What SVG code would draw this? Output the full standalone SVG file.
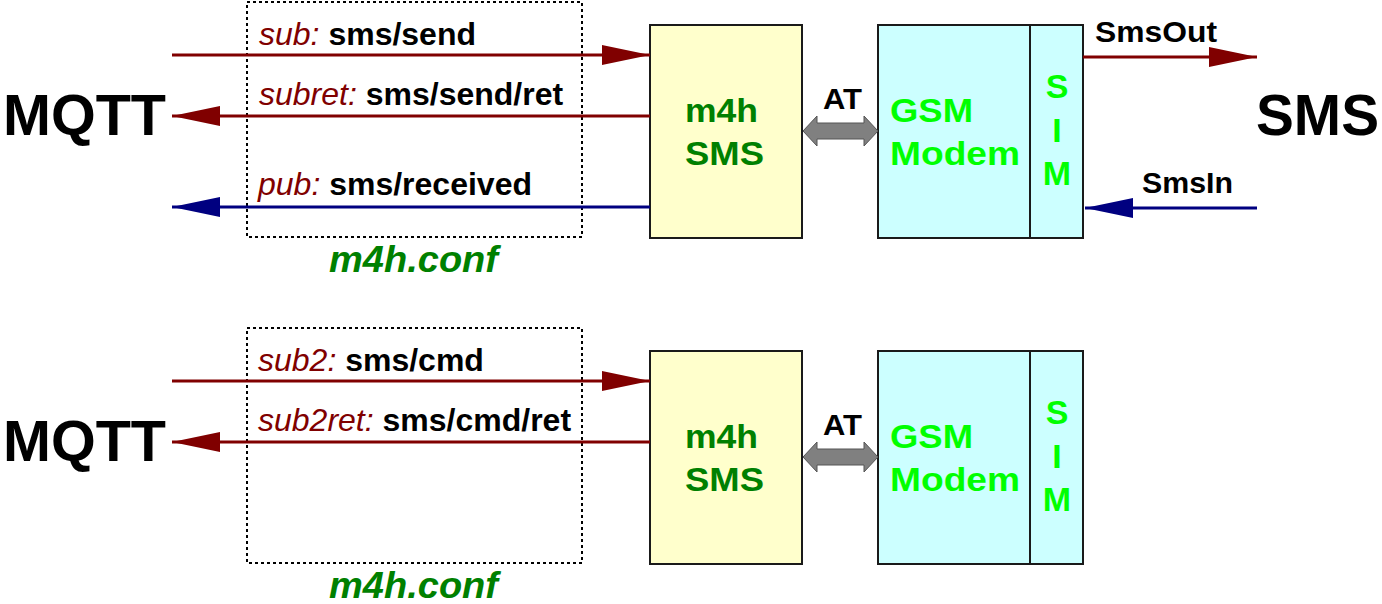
<svg xmlns="http://www.w3.org/2000/svg" width="1382" height="604" viewBox="0 0 1382 604">
<style>
text{font-family:"Liberation Sans",Arial,sans-serif;}
.big{font-size:58px;font-weight:bold;fill:#000;}
.lbl{font-size:32px;}
.key{font-style:italic;fill:#800000;font-weight:normal;}
.val{font-weight:bold;fill:#000;}
.conf{font-size:37px;font-weight:bold;font-style:italic;fill:#008000;}
.m4h{fill:#ffffcc;stroke:#1a1a1a;stroke-width:2;}
.gsm{fill:#ccffff;stroke:#1a1a1a;stroke-width:2;}
.m4ht{font-size:33px;font-weight:bold;fill:#008000;}
.gsmt{font-size:33px;font-weight:bold;fill:#00ff00;}
.simt{font-size:34px;font-weight:bold;fill:#00ff00;text-anchor:middle;}
.dot{fill:none;stroke:#000;stroke-width:2;stroke-dasharray:3 3;}
.red{stroke:#800000;stroke-width:3;fill:none;}
.blue{stroke:#000080;stroke-width:3;fill:none;}
.at{fill:#808080;stroke:#555;stroke-width:1;}
.att{font-size:29px;font-weight:bold;fill:#000;}
.sms{font-size:30px;font-weight:bold;fill:#000;}
</style>
<defs>
<marker id="hr" markerUnits="userSpaceOnUse" markerWidth="50" markerHeight="22" refX="48" refY="10" orient="auto"><path d="M0,0 L48,10 L0,20 z" fill="#800000"/></marker>
<marker id="hb" markerUnits="userSpaceOnUse" markerWidth="50" markerHeight="22" refX="48" refY="10" orient="auto"><path d="M0,0 L48,10 L0,20 z" fill="#000080"/></marker>
</defs>

<g id="top">
<g id="mqtt1"><text class="big" x="3" y="135" textLength="163" lengthAdjust="spacingAndGlyphs">MQTT</text></g>
<g id="conf1"><rect class="dot" x="247" y="2" width="335" height="235"/><text class="conf" x="329" y="272" textLength="169" lengthAdjust="spacingAndGlyphs">m4h.conf</text></g>
<g id="m4h1"><rect class="m4h" x="650" y="25" width="152" height="213"/><text class="m4ht" x="685" y="122" textLength="73" lengthAdjust="spacingAndGlyphs">m4h</text><text class="m4ht" x="685" y="165" textLength="79" lengthAdjust="spacingAndGlyphs">SMS</text></g>
<g id="gsm1"><rect class="gsm" x="878" y="25" width="152" height="213"/><text class="gsmt" x="890" y="122" textLength="83" lengthAdjust="spacingAndGlyphs">GSM</text><text class="gsmt" x="890" y="165" textLength="130" lengthAdjust="spacingAndGlyphs">Modem</text></g>
<g id="sim1"><rect class="gsm" x="1030" y="25" width="53" height="213"/><text class="simt" x="1057" y="98">S</text><text class="simt" x="1057" y="142">I</text><text class="simt" x="1057" y="185">M</text></g>
<g id="sms1"><text class="big" x="1256" y="135" textLength="123" lengthAdjust="spacingAndGlyphs">SMS</text></g>
</g>

<g id="bottom">
<g id="mqtt2"><text class="big" x="3" y="461" textLength="163" lengthAdjust="spacingAndGlyphs">MQTT</text></g>
<g id="conf2"><rect class="dot" x="247" y="328" width="335" height="235"/><text class="conf" x="329" y="598" textLength="169" lengthAdjust="spacingAndGlyphs">m4h.conf</text></g>
<g id="m4h2"><rect class="m4h" x="650" y="351" width="152" height="213"/><text class="m4ht" x="685" y="448" textLength="73" lengthAdjust="spacingAndGlyphs">m4h</text><text class="m4ht" x="685" y="491" textLength="79" lengthAdjust="spacingAndGlyphs">SMS</text></g>
<g id="gsm2"><rect class="gsm" x="878" y="351" width="152" height="213"/><text class="gsmt" x="890" y="448" textLength="83" lengthAdjust="spacingAndGlyphs">GSM</text><text class="gsmt" x="890" y="491" textLength="130" lengthAdjust="spacingAndGlyphs">Modem</text></g>
<g id="sim2"><rect class="gsm" x="1030" y="351" width="53" height="213"/><text class="simt" x="1057" y="424">S</text><text class="simt" x="1057" y="468">I</text><text class="simt" x="1057" y="511">M</text></g>
</g>

<g id="connectors">
<line class="red" x1="172" y1="55" x2="650" y2="55" marker-end="url(#hr)"/>
<text class="lbl" x="259" y="45"><tspan class="key">sub:</tspan><tspan class="val"> sms/send</tspan></text>
<line class="red" x1="650" y1="116" x2="172" y2="116" marker-end="url(#hr)"/>
<text class="lbl" x="259" y="105"><tspan class="key">subret:</tspan><tspan class="val"> sms/send/ret</tspan></text>
<line class="blue" x1="650" y1="207" x2="172" y2="207" marker-end="url(#hb)"/>
<text class="lbl" x="258" y="195"><tspan class="key">pub:</tspan><tspan class="val"> sms/received</tspan></text>
<polygon class="at" points="803,131 817,116 817,123 864,123 864,116 878,131 864,146 864,139 817,139 817,146"/>
<text class="att" x="823" y="109" textLength="39" lengthAdjust="spacingAndGlyphs">AT</text>
<line class="red" x1="1083" y1="57" x2="1257" y2="57" marker-end="url(#hr)"/>
<text class="sms" x="1095" y="42" textLength="122" lengthAdjust="spacingAndGlyphs">SmsOut</text>
<line class="blue" x1="1257" y1="208" x2="1085" y2="208" marker-end="url(#hb)"/>
<text class="sms" x="1142" y="193" textLength="91" lengthAdjust="spacingAndGlyphs">SmsIn</text>

<line class="red" x1="172" y1="381" x2="650" y2="381" marker-end="url(#hr)"/>
<text class="lbl" x="258" y="371"><tspan class="key">sub2:</tspan><tspan class="val"> sms/cmd</tspan></text>
<line class="red" x1="650" y1="442" x2="172" y2="442" marker-end="url(#hr)"/>
<text class="lbl" x="258" y="431"><tspan class="key">sub2ret:</tspan><tspan class="val"> sms/cmd/ret</tspan></text>
<polygon class="at" points="803,457 817,442 817,449 864,449 864,442 878,457 864,472 864,465 817,465 817,472"/>
<text class="att" x="823" y="435" textLength="39" lengthAdjust="spacingAndGlyphs">AT</text>
</g>
</svg>
